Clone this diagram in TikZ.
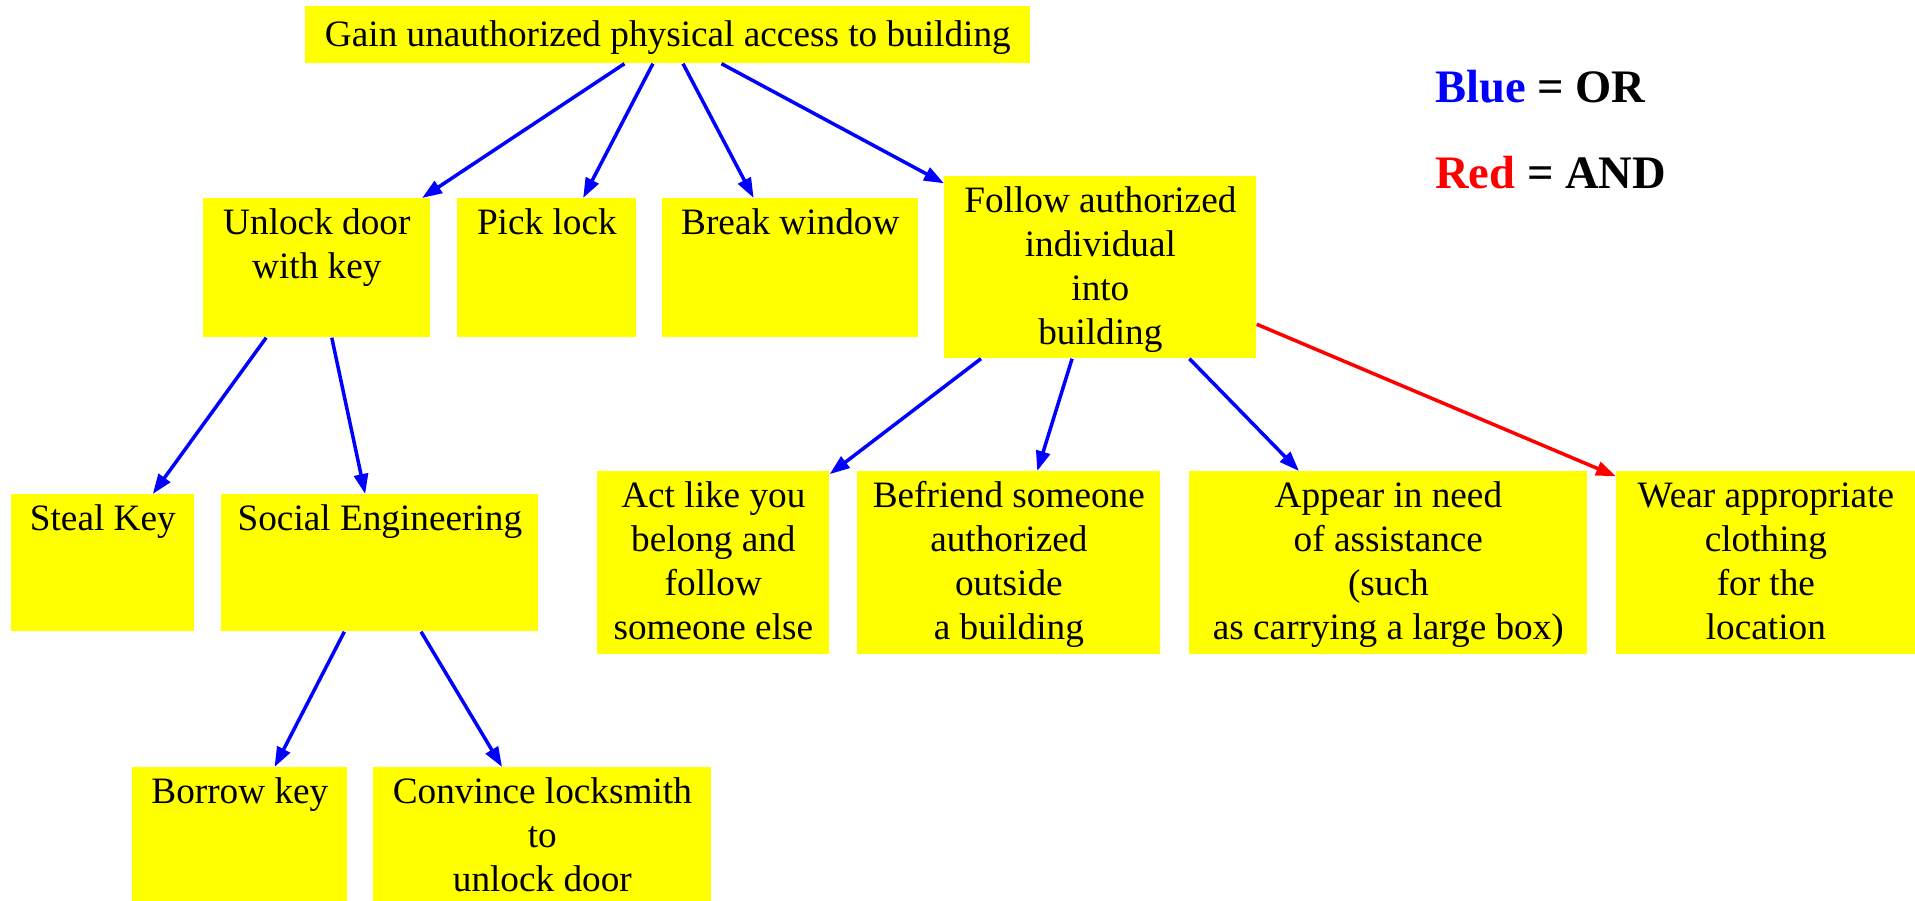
\documentclass[tikz,border=0pt]{standalone}
\usepackage{fontspec}
\setmainfont{Liberation Serif}
\usetikzlibrary{arrows.meta}
\definecolor{boxyellow}{RGB}{255,255,0}
\newlength{\px}
\setlength{\px}{0.02cm}
\newcommand{\boxtext}[4][5.2]{\parbox[t][#3\px][t]{#2\px}{\centering\vspace*{#1\px}\strut #4}}

\begin{document}
\begin{tikzpicture}[x=0.02cm,y=-0.02cm,
  every node/.style={font=\fontsize{21.2}{25}\selectfont},
  goal/.style={fill=boxyellow,inner sep=0pt,anchor=north west},
  ortip/.style={draw=blue,line width=0.07cm,-{Triangle[length=0.4cm,width=0.28cm]}},
  andtip/.style={draw=red,line width=0.07cm,-{Triangle[length=0.4cm,width=0.28cm]}},
  legend/.style={anchor=base west,font=\bfseries\fontsize{26.5}{30}\selectfont}]
  \useasboundingbox (0,0) rectangle (1915,901);
  \node[goal] (root) at (305,6) {\boxtext[9.7]{725}{57}{Gain unauthorized physical access to building}};
  \node[goal] (unlock) at (203,198) {\boxtext{227}{139}{Unlock door\\with key}};
  \node[goal] (pick) at (457,198) {\boxtext{179}{139}{Pick lock}};
  \node[goal] (brk) at (662,198) {\boxtext{256}{139}{Break window}};
  \node[goal] (follow) at (944,176) {\boxtext{312}{182}{Follow authorized\\individual\\into\\building}};
  \node[goal] (steal) at (11,494) {\boxtext{183}{137}{Steal Key}};
  \node[goal] (social) at (221,494) {\boxtext{317}{137}{Social Engineering}};
  \node[goal] (borrow) at (132,767) {\boxtext{215}{134}{Borrow key}};
  \node[goal] (convince) at (373,767) {\boxtext{338}{134}{Convince locksmith\\to\\unlock door}};
  \node[goal] (act) at (597,471) {\boxtext{232}{183}{Act like you\\belong and\\follow\\someone else}};
  \node[goal] (befriend) at (857,471) {\boxtext{303}{183}{Befriend someone\\authorized\\outside\\a building}};
  \node[goal] (appear) at (1189,471) {\boxtext{398}{183}{Appear in need\\of assistance\\(such\\as carrying a large box)}};
  \node[goal] (wear) at (1616,471) {\boxtext{299}{183}{Wear appropriate\\clothing\\for the\\location}};
  \node[legend] (legor) at (1429,103) {\textcolor{blue}{Blue} = OR};
  \node[legend] (legand) at (1429,189) {\textcolor{red}{Red} = AND};
  \path (root) edge[ortip] (unlock);
  \path (root) edge[ortip] (pick);
  \path (root) edge[ortip] (brk);
  \path (root) edge[ortip] (follow);
  \path (unlock) edge[ortip] (steal);
  \path (unlock) edge[ortip] (social);
  \path (social) edge[ortip] (borrow);
  \path (social) edge[ortip] (convince);
  \path (follow) edge[ortip] (act);
  \path (follow) edge[ortip] (befriend);
  \path (follow) edge[ortip] (appear);
  \path (follow.-20) edge[andtip] (wear.150);
\end{tikzpicture}
\end{document}
